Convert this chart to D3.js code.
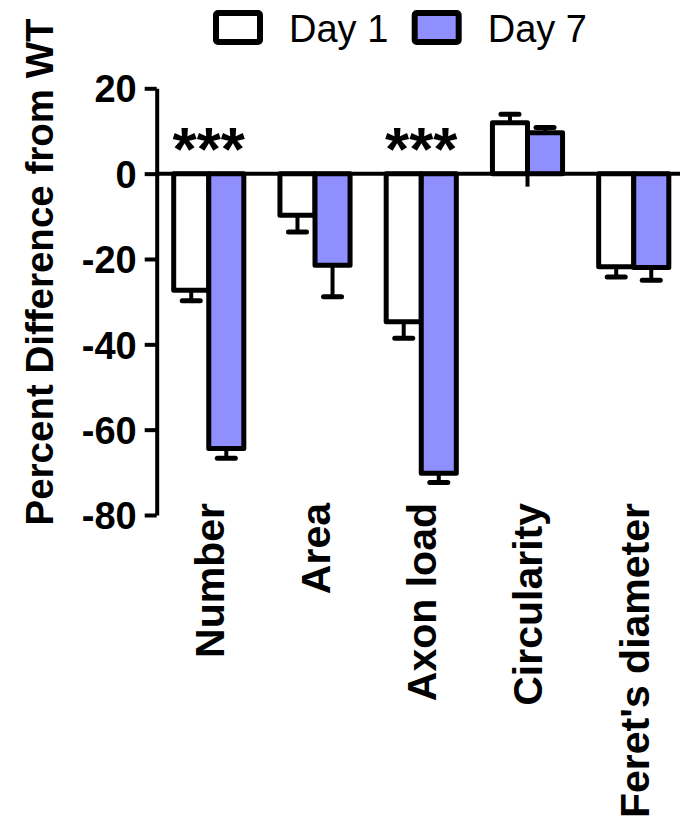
<!DOCTYPE html>
<html>
<head>
<meta charset="utf-8">
<script src="https://cdn.jsdelivr.net/npm/d3@7"></script>
<style>
  body { margin: 0; background: #fff; }
  svg { display: block; }
  text { font-family: "Liberation Sans", Arial, Helvetica, sans-serif; }
</style>
</head>
<body>
<div id="chart"></div>
<script>
// constantes
const w = 680;
const h = 825;

// données
const categories = ["Number", "Area", "Axon load", "Circularity", "Feret's diameter"];
const series = ["Day 1", "Day 7"];
const day1 = [-27.3, -9.75, -34.7, 11.9, -21.85];
const day1Sem = [2.5, 3.9, 3.9, 2.0, 2.35];
const day7 = [-64.4, -21.45, -70.2, 9.6, -22.0];
const day7Sem = [2.3, 7.4, 2.2, 1.2, 3.0];
const yTicks = [20, 0, -20, -40, -60, -80];
const stars = ["***", "", "***", "", ""];
const colors = ["#ffffff", "#8f8fff"];

// table pour le dessin
const data = categories.map((c, i) => ({
    cat: c,
    values: [
        {serie: series[0], v: day1[i], sem: day1Sem[i]},
        {serie: series[1], v: day7[i], sem: day7Sem[i]}
    ]
}));

// svg
const svg = d3.select("#chart")
    .append("svg")
    .attr("width", w)
    .attr("height", h);

// scales
const yScale = d3.scaleLinear()
    .domain([-80, 20])
    .range([515, 88.3]);

const x0 = d3.scaleBand()
    .domain(categories)
    .range([156.7, 685.8])
    .paddingInner(0.34)
    .paddingOuter(0.16);

const x1 = d3.scaleBand()
    .domain(series)
    .range([0, x0.bandwidth()])
    .padding(0);

const color = d3.scaleOrdinal().domain(series).range(colors);

// barres
const groupes = svg.selectAll(".groupe")
    .data(data)
    .enter()
    .append("g")
    .attr("class", "groupe")
    .attr("transform", d => "translate(" + x0(d.cat) + ",0)");

groupes.selectAll("rect")
    .data(d => d.values)
    .enter()
    .append("rect")
    .attr("x", d => x1(d.serie))
    .attr("width", x1.bandwidth())
    .attr("y", d => yScale(Math.max(0, d.v)))
    .attr("height", d => Math.abs(yScale(d.v) - yScale(0)))
    .attr("fill", d => color(d.serie))
    .attr("stroke", "#000")
    .attr("stroke-width", 5)
    .attr("stroke-linejoin", "round");

// barres d'erreur
groupes.selectAll(".err")
    .data(d => d.values)
    .enter()
    .append("line")
    .attr("class", "err")
    .attr("x1", d => x1(d.serie) + x1.bandwidth() / 2)
    .attr("x2", d => x1(d.serie) + x1.bandwidth() / 2)
    .attr("y1", d => yScale(d.v))
    .attr("y2", d => yScale(d.v < 0 ? d.v - d.sem : d.v + d.sem))
    .attr("stroke", "#000")
    .attr("stroke-width", 4);

groupes.selectAll(".cap")
    .data(d => d.values)
    .enter()
    .append("line")
    .attr("class", "cap")
    .attr("x1", d => x1(d.serie) + x1.bandwidth() / 2 - 9)
    .attr("x2", d => x1(d.serie) + x1.bandwidth() / 2 + 9)
    .attr("y1", d => yScale(d.v < 0 ? d.v - d.sem : d.v + d.sem))
    .attr("y2", d => yScale(d.v < 0 ? d.v - d.sem : d.v + d.sem))
    .attr("stroke", "#000")
    .attr("stroke-width", 5)
    .attr("stroke-linecap", "round");

// axe x (ligne du zéro + graduations)
svg.append("line")
    .attr("x1", 156.7)
    .attr("x2", w)
    .attr("y1", yScale(0))
    .attr("y2", yScale(0))
    .attr("stroke", "#000")
    .attr("stroke-width", 4);

svg.selectAll(".xtick")
    .data(categories)
    .enter()
    .append("line")
    .attr("class", "xtick")
    .attr("x1", d => x0(d) + x0.bandwidth() / 2)
    .attr("x2", d => x0(d) + x0.bandwidth() / 2)
    .attr("y1", yScale(0))
    .attr("y2", yScale(0) + 13)
    .attr("stroke", "#000")
    .attr("stroke-width", 4);

// étiquettes des catégories
svg.selectAll(".catLabel")
    .data(categories)
    .enter()
    .append("text")
    .attr("class", "catLabel")
    .attr("transform", d => "translate(" + (x0(d) + x0.bandwidth() / 2 + 15) + ",503) rotate(-90)")
    .attr("text-anchor", "end")
    .attr("font-size", "41px")
    .attr("font-weight", "bold")
    .text(d => d);

// axe y
const axeY = d3.axisLeft(yScale)
    .tickValues(yTicks)
    .tickSize(12)
    .tickSizeOuter(0)
    .tickPadding(8)
    .tickFormat(d => String(d));

const gY = svg.append("g")
    .attr("transform", "translate(156.7,0)")
    .call(axeY);

gY.select(".domain").attr("stroke-width", 4);
gY.selectAll(".tick line").attr("stroke-width", 4);
gY.selectAll(".tick text")
    .attr("font-size", "38px")
    .attr("font-weight", "bold")
    .attr("font-family", "'Liberation Sans', Arial, sans-serif")
    .attr("fill", "#000")
    .attr("dy", "0.36em");

// titre y
svg.append("text")
    .attr("transform", "translate(53,272) rotate(-90)")
    .attr("text-anchor", "middle")
    .attr("font-size", "38.5px")
    .attr("font-weight", "bold")
    .text("Percent Difference from WT");

// astérisques
svg.selectAll(".star")
    .data(categories)
    .enter()
    .append("text")
    .attr("class", "star")
    .attr("x", d => x0(d) + x0.bandwidth() / 2)
    .attr("y", yScale(0) - 4)
    .attr("text-anchor", "middle")
    .attr("font-size", "62px")
    .attr("font-weight", "bold")
    .text((d, i) => stars[i]);

// légende
const legende = svg.selectAll(".leg")
    .data(series)
    .enter()
    .append("g")
    .attr("class", "leg")
    .attr("transform", (d, i) => "translate(" + (216 + i * 198.7) + ",13)");

legende.append("rect")
    .attr("width", 44)
    .attr("height", 29)
    .attr("rx", 2)
    .attr("fill", d => color(d))
    .attr("stroke", "#000")
    .attr("stroke-width", 6);

legende.append("text")
    .attr("x", 73)
    .attr("y", 29)
    .attr("font-size", "38px")
    .text(d => d);
</script>
</body>
</html>
